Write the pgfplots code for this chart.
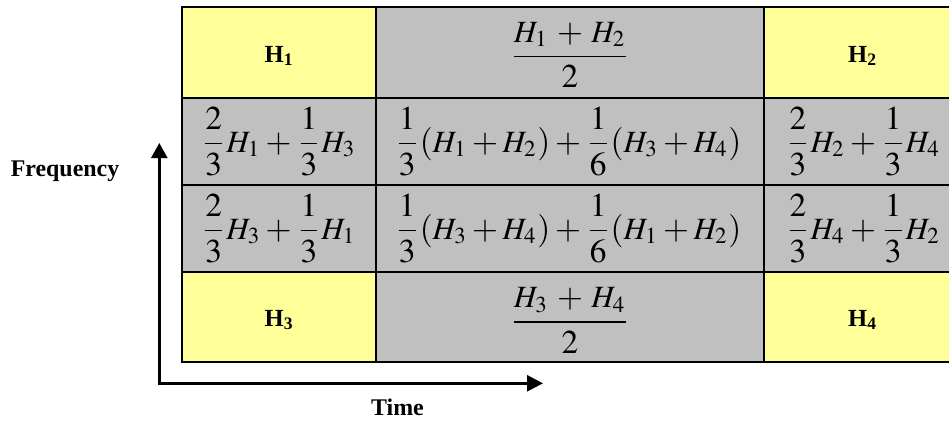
\documentclass[border=0pt]{standalone}
\usepackage{mathptmx}
\usepackage{fontspec}
\setmainfont{Liberation Serif}
\usepackage{pgfplots}
\pgfplotsset{compat=1.18}
\usetikzlibrary{arrows.meta}

\definecolor{cellY}{HTML}{FFFF99}
\definecolor{cellG}{HTML}{C0C0C0}

% bold cell / axis labels and the cell formulas
\newcommand{\lab}[1]{{\fontsize{7}{8}\selectfont\bfseries #1}}
\newcommand{\fm}[1]{{\fontsize{9.5}{12}\selectfont$\displaystyle #1$}}
% H with index, set a little smaller than the fraction digits
\newcommand{\h}[1]{\mbox{\fontsize{8.8}{10}\selectfont$H_{#1}$}}

\begin{document}
\begin{tikzpicture}
\begin{axis}[
  scale only axis, width=9.49cm, height=4.21cm,
  xmin=0, xmax=949, ymin=0, ymax=421, y dir=reverse,
  hide axis, clip=true,
  grid line/.style={black, line width=0.55pt, line cap=rect},
]
% cells (pixel coordinates, y downwards)
\addplot[fill=cellG, draw=none] coordinates {(375.7,7) (764,7) (764,97.7) (375.7,97.7)} -- cycle;
\addplot[fill=cellG, draw=none] coordinates {(181.7,97.7) (949,97.7) (949,271.7) (181.7,271.7)} -- cycle;
\addplot[fill=cellG, draw=none] coordinates {(375.7,271.7) (764,271.7) (764,361.7) (375.7,361.7)} -- cycle;
\addplot[fill=cellY, draw=none] coordinates {(181.7,7) (375.7,7) (375.7,97.7) (181.7,97.7)} -- cycle;
\addplot[fill=cellY, draw=none] coordinates {(764,7) (949,7) (949,97.7) (764,97.7)} -- cycle;
\addplot[fill=cellY, draw=none] coordinates {(181.7,271.7) (375.7,271.7) (375.7,361.7) (181.7,361.7)} -- cycle;
\addplot[fill=cellY, draw=none] coordinates {(764,271.7) (949,271.7) (949,361.7) (764,361.7)} -- cycle;

% grid lines
\addplot[grid line] coordinates {(181.7,7) (949,7)};
\addplot[grid line] coordinates {(181.7,97.7) (949,97.7)};
\addplot[grid line] coordinates {(181.7,185) (949,185)};
\addplot[grid line] coordinates {(181.7,271.7) (949,271.7)};
\addplot[grid line] coordinates {(181.7,361.7) (949,361.7)};
\addplot[grid line] coordinates {(181.7,7) (181.7,361.7)};
\addplot[grid line] coordinates {(375.7,7) (375.7,361.7)};
\addplot[grid line] coordinates {(764,7) (764,361.7)};

% time / frequency arrows
\addplot[black, line width=0.7pt,
  {Triangle[length=1.5mm,width=1.6mm]}-{Triangle[length=1.6mm,width=1.6mm]}]
  coordinates {(159.3,143) (159.3,383.3) (543,383.3)};

% labels
\node at (axis cs:279.5,56) {\lab{H\textsubscript{1}}};
\node at (axis cs:863,56) {\lab{H\textsubscript{2}}};
\node at (axis cs:279.5,320) {\lab{H\textsubscript{3}}};
\node at (axis cs:863,320) {\lab{H\textsubscript{4}}};
\node[anchor=base] at (axis cs:65,176) {{\fontsize{6.8}{8}\selectfont\bfseries Frequency}};
\node[anchor=base] at (axis cs:397.5,415.7) {{\fontsize{6.8}{8}\selectfont\bfseries Time}};

% formulas
\node at (axis cs:570,55) {\fm{\frac{\h1\,+\,\h2}{2}}};
\node at (axis cs:570,320.5) {\fm{\frac{\h3\,+\,\h4}{2}}};
\node at (axis cs:278.7,141.4) {\fm{\frac{2}{3}\h1+\frac{1}{3}\h3}};
\node at (axis cs:278.7,228.4) {\fm{\frac{2}{3}\h3+\frac{1}{3}\h1}};
\node at (axis cs:568,141.4) {\fm{\frac{1}{3}(\h1+\h2)+\frac{1}{6}(\h3+\h4)}};
\node at (axis cs:568,228.4) {\fm{\frac{1}{3}(\h3+\h4)+\frac{1}{6}(\h1+\h2)}};
\node at (axis cs:863,141.4) {\fm{\frac{2}{3}\h2+\frac{1}{3}\h4}};
\node at (axis cs:863,228.4) {\fm{\frac{2}{3}\h4+\frac{1}{3}\h2}};
\end{axis}
\pgfresetboundingbox
\path[use as bounding box] (current axis.south west) rectangle (current axis.north east);
\end{tikzpicture}
\end{document}
